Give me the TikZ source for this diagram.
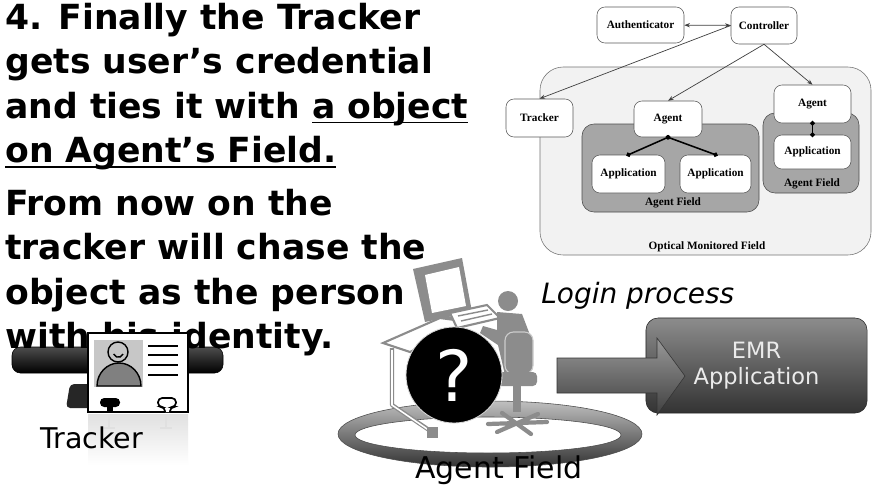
\documentclass[tikz,border=0pt]{standalone}
\usepackage{fontspec}
\setmainfont{DejaVu Sans}
\newfontfamily\paperfont{Liberation Serif}
\usetikzlibrary{arrows.meta}
\newsavebox\ulbox
\newcommand{\uln}[1]{\sbox\ulbox{#1}\rlap{\rule[-3.9pt]{\wd\ulbox}{1.3pt}}\usebox\ulbox}
\tikzset{
  blk/.style={draw=black!65, fill=white, rounded corners=0.2cm, inner sep=0pt, font=\paperfont\bfseries\fontsize{8}{9}\selectfont},
  blklabel/.style={inner sep=0pt, font=\paperfont\bfseries\fontsize{8}{9}\selectfont},
  agentfield/.style={draw=black!70, fill=black!35, rounded corners=0.3cm},
  link/.style={draw=black!75, line width=0.5pt},
  tie/.style={line width=1.1pt, shorten <=-1.6pt, shorten >=-1.6pt, {Circle[length=3.2pt]}-{Circle[length=3.2pt]}},
  bigline/.style={anchor=base west, inner sep=0pt, font=\bfseries\fontsize{24.6}{30}\selectfont},
  clipart/.style={fill=black!45},
  deskleg/.style={draw=black!45, line width=3pt, line join=round},
}
\begin{document}
\begin{tikzpicture}[x=0.025cm, y=-0.025cm, >={Stealth[length=4pt,width=3pt]}]
\path[fill=white, use as bounding box] (0,0) rectangle (872,488);

\draw[draw=black!55, fill=black!5, rounded corners=0.58cm] (540,67) rectangle (871,255);
\draw[agentfield] (582,124) rectangle (759,212);
\draw[agentfield] (763,113) rectangle (859,193);
\node[blk, minimum width=2.175cm, minimum height=0.9cm] (auth) at (640.5,25) {Authenticator};
\node[blk, minimum width=1.65cm, minimum height=0.925cm] (ctrl) at (764,25.5) {Controller};
\node[blk, minimum width=1.675cm, minimum height=0.95cm] (trk) at (539.5,118) {Tracker};
\node[blk, minimum width=1.7cm, minimum height=0.9cm] (agL) at (668,119) {Agent};
\node[blk, minimum width=1.825cm, minimum height=0.95cm] (apL) at (628.5,174) {Application};
\node[blk, minimum width=1.775cm, minimum height=0.95cm] (apR) at (715.5,174) {Application};
\node[blk, minimum width=1.925cm, minimum height=0.95cm] (agR) at (812.5,104) {Agent};
\node[blk, minimum width=1.925cm, minimum height=0.85cm] (apR2) at (812.5,152) {Application};
\node[blklabel] (fldL) at (673,203) {Agent Field};
\node[blklabel] (fldR) at (812,184) {Agent Field};
\node[blklabel] (optical) at (707,247) {Optical Monitored Field};
\draw[link,<->] (auth) -- (ctrl);
\draw[link,->] (ctrl.west) -- (trk.north);
\draw[link,->] (ctrl.south) -- (agL.north);
\draw[link,->] (ctrl.south) -- (agR.north);
\draw[tie] (agL.south) -- (apL.north);
\draw[tie] (agL.south) -- (apR.north);
\draw[tie] (agR.south) -- (apR2.north);

\draw[rounded corners=6pt, draw=black, top color=black!70, bottom color=black] (12,347) rectangle (223,373);
\fill[black!85, rounded corners=3pt] (70,384) -- (96,384) -- (100,408) -- (66,408) -- cycle;

\foreach \txt [count=\i] in {4. Finally the Tracker, gets user’s credential, and ties it with \uln{a object}, \uln{on Agent’s Field.}}
  \node[bigline] (fin\i) at (5,{29+44.5*(\i-1)}) {\txt};
\foreach \txt [count=\i] in {From now on the, tracker will chase the, object as the person, with his identity.}
  \node[bigline] (chase\i) at (5,{215+44.6*(\i-1)}) {\txt};

\shade[top color=black!12, bottom color=white] (88,414) rectangle (188,465);
\draw[black!12, line width=1.2pt] (109,414) -- (109,428) (103,428) -- (115,428) (166,414) -- (166,428) (160,428) -- (172,428);
\draw[fill=white, line width=1.4pt] (88,333) rectangle (188,412);
\fill[black!22] (94,340) rectangle (143,387);
\draw[fill=black!50, line width=1pt] (97,386) arc[start angle=180, end angle=360, x radius=22, y radius=23] -- cycle;
\draw[fill=black!22, line width=1pt] (118,352) circle (10);
\draw[line width=1pt] (123,354) arc[start angle=20, end angle=160, radius=5];
\foreach \ly in {346,355,365,375}
  \draw[line width=1.4pt] (148,\ly) -- (178,\ly);
\fill[black, rounded corners=3pt] (100,398) rectangle (120,407);
\fill[black] (107,405) rectangle (113,412);
\draw[fill=white, line width=1.2pt, rounded corners=3pt] (165,412) -- (165,407) -- (158,407) -- (158,398) -- (176,398) -- (176,407) -- (170,407) -- (170,412);

\node[anchor=base west, inner sep=0pt, font=\fontsize{20.3}{24}\selectfont] (trklabel) at (40,448) {Tracker};
\node[anchor=base west, inner sep=0pt, font=\itshape\fontsize{19.9}{24}\selectfont] (login) at (541,303) {Login process};

\path[even odd rule, draw=black!70, top color=black!25, bottom color=black!80] (490,434) ellipse [x radius=152, y radius=33] (488,435) ellipse [x radius=133, y radius=18];

\fill[clipart] (413,269) -- (462,258) -- (472,312) -- (425,322) -- cycle;
\fill[white] (425,275) -- (459,267) -- (466,306) -- (432,313) -- cycle;
\fill[clipart] (444,317) rectangle (454,328);
\draw[black!45, fill=white, line width=1.5pt] (383,343) -- (440,318) -- (470,322) -- (410,352) -- cycle;
\draw[black!45, fill=white, line width=1.5pt] (450,313) -- (487,305) -- (500,318) -- (457,328) -- cycle;
\draw[black!45, line width=1pt] (458,316) -- (488,310) (461,321) -- (492,314);
\draw[deskleg] (392,348) -- (392,405) -- (432,432);
\draw[white, line width=1.1pt, line join=round] (392,350) -- (392,405) -- (430,431);
\fill[clipart] (427,427) rectangle (438,438);
\fill[clipart] (508,301) circle (10);
\fill[clipart] (497,312) -- (522,314) -- (530,335) -- (525,372) -- (505,375) -- (498,345) -- (480,333) -- (483,326) -- (497,330) -- cycle;
\draw[fill=black!45, draw=black!20, line width=0.8pt, rounded corners=6pt] (505,332) rectangle (533,374);
\fill[clipart, rounded corners=3pt] (493,372) rectangle (537,386);
\fill[clipart] (513,386) rectangle (521,412);
\draw[black!45, line width=3pt, line cap=round] (488,424) -- (547,422) (497,432) -- (538,414) (502,413) -- (531,434);

\node[circle, fill=black, draw=black!15, line width=0.6pt, minimum size=2.4cm, inner sep=0pt, text=white, font=\fontsize{50}{50}\selectfont] (quest) at (454,375) {?};
\node[anchor=base west, inner sep=0pt, font=\fontsize{21.3}{24}\selectfont] (fieldlabel) at (415,478) {Agent Field};

\node[draw=black!85, top color=black!45, bottom color=black!80, rounded corners=0.3cm, minimum width=5.525cm, minimum height=2.375cm, text=black!8, align=center, font=\fontsize{16}{19}\selectfont] (emr) at (756.5,365.5) {EMR\\Application};
\draw[draw=black!80, top color=black!40, bottom color=black!75] (557,358) -- (657,358) -- (657,338) -- (685,376) -- (657,415) -- (657,393) -- (557,393) -- cycle;
\end{tikzpicture}
\end{document}
